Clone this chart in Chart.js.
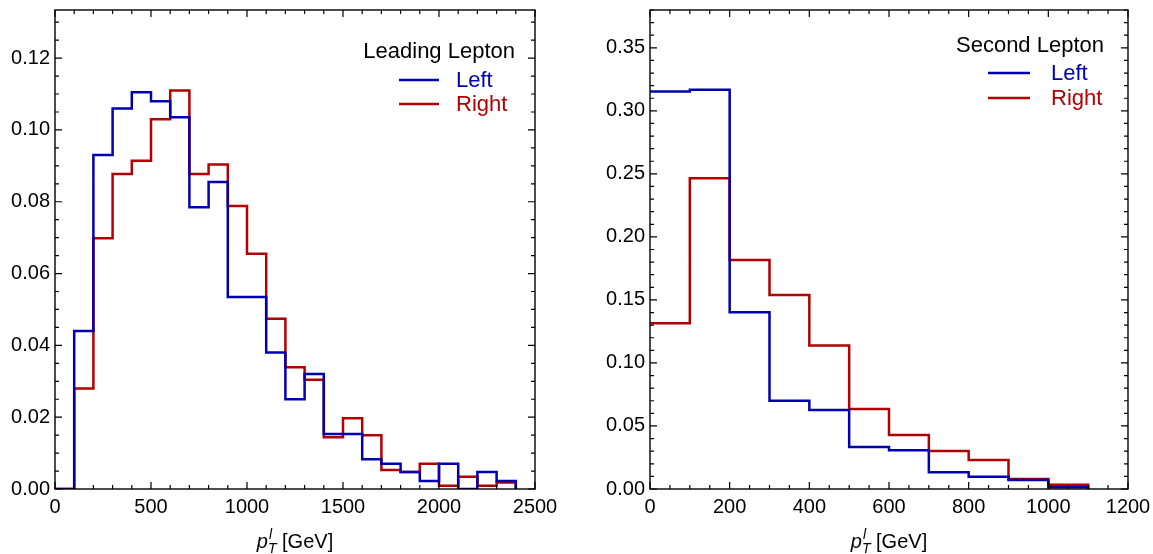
<!DOCTYPE html>
<html>
<head>
<meta charset="utf-8">
<script src="https://cdn.jsdelivr.net/npm/chart.js@4.4.1/dist/chart.umd.min.js"></script>
<style>
  html, body { margin: 0; padding: 0; background: #fff; }
  #wrap { position: relative; width: 1153px; height: 554px; }
  .panel { position: absolute; top: 0; height: 554px; }
  #left { left: 0; width: 576px; }
  #right { left: 576px; width: 577px; }
</style>
</head>
<body>
<div id="wrap">
  <div class="panel" id="left"><canvas id="leadingChart"></canvas></div>
  <div class="panel" id="right"><canvas id="secondChart"></canvas></div>
</div>
<script>
// ---- leading lepton pT, 100 GeV bins ----
const leadingEdges = [0, 100, 200, 300, 400, 500, 600, 700, 800, 900, 1000, 1100, 1200,
  1300, 1400, 1500, 1600, 1700, 1800, 1900, 2000, 2100, 2200, 2300, 2400];
const leadingLeft = [0, 0.044, 0.093, 0.106, 0.1105, 0.108, 0.1035, 0.0785, 0.0855, 0.0535,
  0.0535, 0.038, 0.025, 0.032, 0.0153, 0.0153, 0.0083, 0.007, 0.0047, 0.0022,
  0.007, 0, 0.0047, 0.0022];
const leadingRight = [0, 0.028, 0.0698, 0.0877, 0.0914, 0.103, 0.111, 0.0877, 0.0904, 0.0788,
  0.0655, 0.0474, 0.0339, 0.0304, 0.0144, 0.0197, 0.015, 0.0053, 0.0047, 0.007,
  0.0009, 0.0034, 0.0009, 0.0018];

// ---- second lepton pT, 100 GeV bins ----
const secondEdges = [0, 100, 200, 300, 400, 500, 600, 700, 800, 900, 1000, 1100];
const secondLeft = [0.3153, 0.3167, 0.1402, 0.070, 0.0627, 0.0333, 0.0307, 0.0132, 0.0098, 0.0071, 0.0013];
const secondRight = [0.1315, 0.2466, 0.1817, 0.154, 0.1138, 0.0635, 0.0429, 0.0302, 0.023, 0.0079, 0.0034];

// tick labels
const leadingXTicks = [0, 500, 1000, 1500, 2000, 2500];
const leadingYTicks = [0, 0.02, 0.04, 0.06, 0.08, 0.10, 0.12];
const secondXTicks = [0, 200, 400, 600, 800, 1000, 1200];
const secondYTicks = [0, 0.05, 0.10, 0.15, 0.20, 0.25, 0.30, 0.35];

const seriesNames = ["Left", "Right"];
const BLUE = "#0000b0";
const RED = "#b00000";
const FONT = "'Liberation Sans', Arial, sans-serif";

// histogram -> step points (value holds from this edge to the next)
function toSteps(edges, values) {
  return edges.map((e, i) => ({ x: e, y: i < values.length ? values[i] : 0 }));
}

// Mathematica-like frame: box with inward major/minor ticks on all 4 sides
const framePlugin = {
  id: "frame",
  afterDatasetsDraw(chart, args, opts) {
    const { ctx, chartArea: a } = chart;
    const xs = chart.scales.x, ys = chart.scales.y;
    ctx.save();
    ctx.strokeStyle = "#000";
    ctx.lineWidth = 1.4;
    ctx.strokeRect(a.left, a.top, a.right - a.left, a.bottom - a.top);
    ctx.lineWidth = 1.2;
    ctx.beginPath();
    const tickX = (v, len) => {
      const px = xs.getPixelForValue(v);
      ctx.moveTo(px, a.bottom); ctx.lineTo(px, a.bottom - len);
      ctx.moveTo(px, a.top); ctx.lineTo(px, a.top + len);
    };
    const tickY = (v, len) => {
      const py = ys.getPixelForValue(v);
      ctx.moveTo(a.left, py); ctx.lineTo(a.left + len, py);
      ctx.moveTo(a.right, py); ctx.lineTo(a.right - len, py);
    };
    for (let i = 0; xs.min + i * opts.xMinor <= xs.max + 1e-9; i++) {
      const v = xs.min + i * opts.xMinor;
      const major = Math.abs(v / opts.xMajor - Math.round(v / opts.xMajor)) < 1e-6;
      tickX(v, major ? 7 : 4);
    }
    for (let i = 0; ys.min + i * opts.yMinor <= ys.max + 1e-9; i++) {
      const v = ys.min + i * opts.yMinor;
      const major = Math.abs(v / opts.yMajor - Math.round(v / opts.yMajor)) < 1e-6;
      tickY(v, major ? 7 : 4);
    }
    ctx.stroke();
    ctx.restore();
  },
};

// legend block (title + line samples) and the p_T^l axis title
const annotatePlugin = {
  id: "annotate",
  afterDraw(chart, args, opts) {
    const { ctx, chartArea: a } = chart;
    ctx.save();
    ctx.textBaseline = "middle";
    ctx.font = "22px " + FONT;
    ctx.fillStyle = "#000";
    ctx.textAlign = "right";
    ctx.fillText(opts.title, a.right - opts.titleRight, a.top + opts.titleY);
    ctx.textAlign = "left";
    chart.data.datasets.forEach((ds, i) => {
      const y = a.top + opts.rowY[i];
      ctx.strokeStyle = ds.borderColor;
      ctx.lineWidth = 2.5;
      ctx.beginPath();
      ctx.moveTo(a.right - opts.lineFrom, y);
      ctx.lineTo(a.right - opts.lineTo, y);
      ctx.stroke();
      ctx.fillStyle = ds.borderColor;
      ctx.fillText(ds.label, a.right - opts.textAt, y + 1);
    });

    // axis title: italic p, subscript T, superscript l, then [GeV]
    ctx.fillStyle = "#000";
    ctx.textBaseline = "alphabetic";
    const base = opts.axisY;
    const mainFont = "italic 20px " + FONT;
    const smallFont = "italic 14px " + FONT;
    const tail = " [GeV]";
    ctx.font = mainFont;
    const wp = ctx.measureText("p").width;
    ctx.font = smallFont;
    const wT = ctx.measureText("T").width;
    ctx.font = "20px " + FONT;
    const wTail = ctx.measureText(tail).width;
    const total = wp + wT + wTail;
    let x = (a.left + a.right) / 2 - total / 2 + opts.axisShift;
    ctx.textAlign = "left";
    ctx.font = mainFont;
    ctx.fillText("p", x, base);
    x += wp;
    ctx.font = smallFont;
    ctx.fillText("T", x, base + 5);
    ctx.fillText("l", x + 1, base - 9);
    x += wT;
    ctx.font = "20px " + FONT;
    ctx.fillText(tail, x, base);
    ctx.restore();
  },
};

function fixedTicks(list) {
  return (scale) => { scale.ticks = list.map((v) => ({ value: v })); };
}

function makeChart(id, cfg) {
  const tickFont = { family: FONT, size: 20 };
  return new Chart(document.getElementById(id), {
    type: "line",
    data: {
      datasets: [
        { label: seriesNames[0], data: toSteps(cfg.edges, cfg.left), borderColor: BLUE },
        { label: seriesNames[1], data: toSteps(cfg.edges, cfg.right), borderColor: RED },
      ].map((d) => Object.assign(d, {
        stepped: "before", borderWidth: 2.5, pointRadius: 0, fill: false, tension: 0,
      })),
    },
    options: {
      responsive: true,
      maintainAspectRatio: false,
      animation: false,
      layout: { padding: cfg.padding },
      scales: {
        x: {
          type: "linear", min: 0, max: cfg.xMax,
          afterBuildTicks: fixedTicks(cfg.xTicks),
          grid: { display: false, drawTicks: false },
          border: { display: false },
          ticks: { font: tickFont, color: "#000", padding: 6, maxRotation: 0, autoSkip: false,
            callback: (v) => String(v) },
          afterFit: (s) => { s.height = 65; s.paddingLeft = 0; s.paddingRight = 0; },
        },
        y: {
          min: 0, max: cfg.yMax,
          afterBuildTicks: fixedTicks(cfg.yTicks),
          grid: { display: false, drawTicks: false },
          border: { display: false },
          ticks: { font: tickFont, color: "#000", padding: 5, autoSkip: false,
            callback: (v) => v.toFixed(2) },
          afterFit: (s) => { s.width = cfg.yWidth; s.paddingTop = 0; s.paddingBottom = 0; },
        },
      },
      plugins: {
        legend: { display: false },
        tooltip: { enabled: false },
        frame: cfg.frame,
        annotate: cfg.annotate,
      },
    },
    plugins: [framePlugin, annotatePlugin],
  });
}

makeChart("leadingChart", {
  edges: leadingEdges, left: leadingLeft, right: leadingRight,
  xMax: 2500, yMax: 0.1334, xTicks: leadingXTicks, yTicks: leadingYTicks,
  yWidth: 55, padding: { top: 10, right: 41, left: 0, bottom: 0 },
  frame: { xMajor: 500, xMinor: 100, yMajor: 0.02, yMinor: 0.005 },
  annotate: { title: "Leading Lepton", titleRight: 20, titleY: 42,
    rowY: [70, 94], lineFrom: 136, lineTo: 96, textAt: 79, axisY: 548, axisShift: 0 },
});

makeChart("secondChart", {
  edges: secondEdges, left: secondLeft, right: secondRight,
  xMax: 1200, yMax: 0.380, xTicks: secondXTicks, yTicks: secondYTicks,
  yWidth: 74, padding: { top: 10, right: 25, left: 0, bottom: 0 },
  frame: { xMajor: 200, xMinor: 50, yMajor: 0.05, yMinor: 0.01 },
  annotate: { title: "Second Lepton", titleRight: 24, titleY: 36,
    rowY: [63, 88], lineFrom: 140, lineTo: 98, textAt: 77, axisY: 548, axisShift: 0 },
});
</script>
</body>
</html>
